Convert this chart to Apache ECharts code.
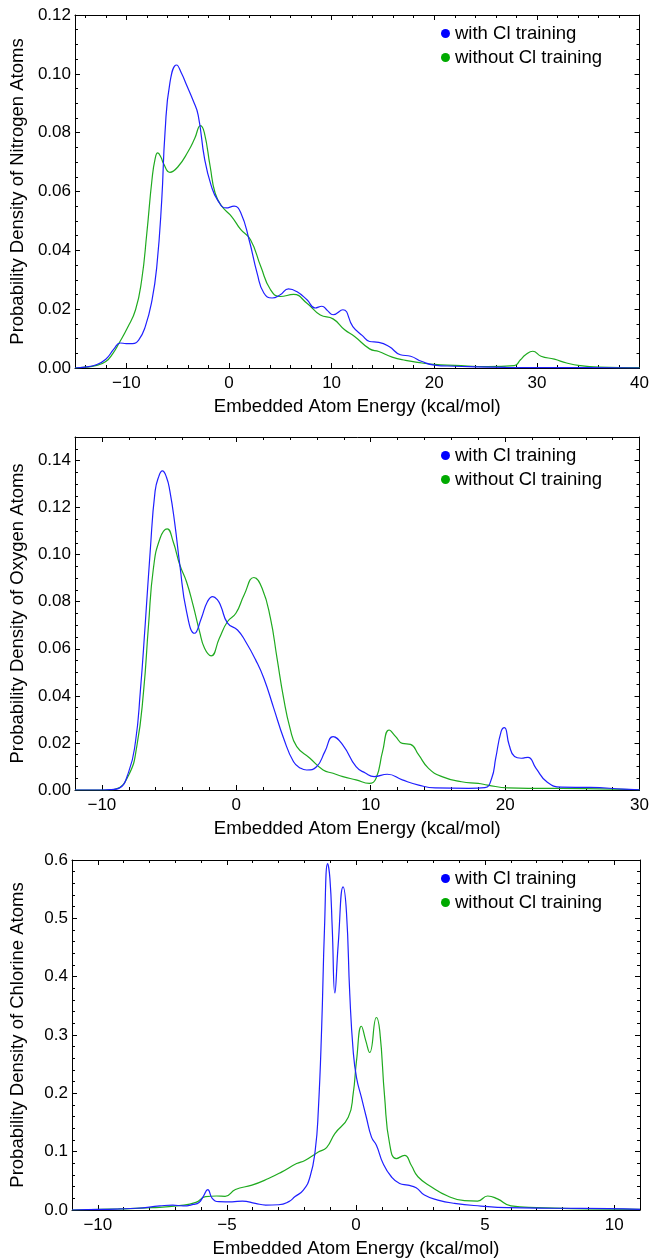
<!DOCTYPE html>
<html>
<head>
<meta charset="utf-8">
<script src="https://cdn.jsdelivr.net/npm/echarts@6/dist/echarts.min.js"></script>
<style>
html,body{margin:0;padding:0;background:#fff;}
#chart{width:652px;height:1259px;}
</style>
</head>
<body>
<div id="chart"></div>
<script>
// ---------- Nitrogen panel ----------
const nWithX = [-15,-14,-13,-12,-11.2,-10.6,-10,-9.4,-8.8,-8.16,-7.5,-7.03,-6.55,-6.23,-5.75,-5.1,-4.6,-4.14,-3.5,-3.0,-2.37,-1.73,-1.09,-0.28,0.5,1.16,1.96,2.76,3.4,4.2,5.0,5.8,6.6,7.6,8.4,9.05,9.6,10.14,11.1,12.07,13.0,13.7,14.6,15.6,16.7,17.7,18.8,20,22,24,27,30,35,40];
const nWithY = [0,0.0003,0.001,0.003,0.0065,0.0085,0.0083,0.0083,0.0095,0.014,0.023,0.0345,0.057,0.080,0.097,0.103,0.100,0.0963,0.091,0.086,0.071,0.062,0.057,0.0544,0.055,0.0527,0.0436,0.032,0.0255,0.0238,0.0249,0.0269,0.026,0.0232,0.0204,0.021,0.0195,0.0181,0.0198,0.0141,0.011,0.009,0.0087,0.0073,0.0045,0.004,0.0022,0.001,0.0006,0.0004,0.0002,0.0001,0.0001,0];
const nWithoutX = [-15,-14,-13,-12,-11.3,-10.7,-9.9,-9.1,-8.5,-8.0,-7.5,-7.2,-6.94,-6.6,-6.4,-5.75,-4.95,-3.98,-3.34,-2.77,-2.4,-1.83,-1.35,-0.7,0.26,1.16,2.1,3.1,4.05,5.0,6.3,7.6,8.9,10.14,11.27,12.24,13.7,14.6,15.9,17.2,18.8,20,22,25.2,27.8,28.4,28.9,29.6,30.4,31.7,32.9,34.2,36,40];
const nWithoutY = [0,0.0003,0.0008,0.0022,0.005,0.0085,0.0136,0.0198,0.030,0.0459,0.064,0.071,0.0731,0.0715,0.0697,0.0665,0.0685,0.0736,0.078,0.0824,0.080,0.0685,0.0595,0.055,0.0515,0.047,0.0436,0.0345,0.0266,0.0243,0.025,0.022,0.018,0.0167,0.013,0.0107,0.0065,0.0056,0.0037,0.0026,0.0017,0.0012,0.0009,0.0005,0.0008,0.0028,0.0045,0.0057,0.004,0.003,0.0017,0.0008,0.0003,0.0001];
const nXTicks = [-10,0,10,20,30,40];
const nYTicks = [0,0.02,0.04,0.06,0.08,0.10,0.12];

// ---------- Oxygen panel ----------
const oWithX = [-12,-10,-9.3,-8.74,-8.0,-7.5,-7.14,-6.78,-6.41,-6.04,-5.75,-5.5,-5.2,-4.94,-4.57,-4.2,-3.7,-3.1,-2.6,-2.15,-1.75,-1.4,-1.14,-0.65,0.09,0.7,1.44,2.05,2.79,3.52,4.26,4.8,5.24,5.97,6.59,7.2,7.93,8.91,9.6,10.26,11.24,12.35,13.57,14.8,17.3,18.5,19.0,19.3,19.7,19.95,20.3,20.7,21.2,21.7,22.3,23.1,24.2,26.3,28.8,30];
const oWithY = [0,0,0.0002,0.0007,0.0078,0.0205,0.0418,0.070,0.101,0.127,0.1335,0.1356,0.133,0.127,0.113,0.0956,0.0758,0.0666,0.073,0.080,0.0822,0.0808,0.078,0.0709,0.068,0.063,0.0553,0.0475,0.0347,0.022,0.012,0.0092,0.0085,0.0099,0.0163,0.0227,0.0191,0.0099,0.0072,0.0057,0.0067,0.0043,0.0021,0.0009,0.0007,0.001,0.005,0.0135,0.0248,0.0265,0.0191,0.0142,0.0135,0.0139,0.0092,0.0035,0.0012,0.0011,0.0004,0.0001];
const oWithoutX = [-12,-10,-9.5,-8.98,-8.0,-7.39,-6.9,-6.53,-6.17,-5.67,-5.14,-4.7,-4.2,-3.71,-3.22,-2.73,-2.36,-1.87,-1.26,-0.65,-0.03,0.58,1.31,1.92,2.54,3.03,3.52,4.0,4.5,5.48,6.46,7.2,7.93,8.91,9.9,10.4,10.88,11.37,11.86,12.35,12.96,13.57,14.3,15.3,16.76,18.0,18.7,20.2,22.4,26.0,30];
const oWithoutY = [0,0,0.0001,0.0004,0.0064,0.019,0.0418,0.070,0.094,0.107,0.111,0.1056,0.0956,0.0886,0.0787,0.0673,0.0602,0.057,0.0645,0.0716,0.0751,0.0829,0.0903,0.0857,0.073,0.056,0.039,0.0262,0.0184,0.0135,0.0085,0.0071,0.0057,0.0043,0.0028,0.005,0.0163,0.0255,0.0227,0.0198,0.0194,0.0149,0.0092,0.0057,0.0035,0.0028,0.0021,0.0009,0.0007,0.0006,0.0001];
const oXTicks = [-10,0,10,20,30];
const oYTicks = [0,0.02,0.04,0.06,0.08,0.10,0.12,0.14];

// ---------- Chlorine panel ----------
const cWithX = [-11,-9.8,-8.5,-7.6,-7.1,-6.7,-6.3,-6.08,-5.92,-5.74,-5.57,-5.31,-4.8,-4.4,-3.9,-3.5,-3.0,-2.6,-2.36,-2.04,-1.78,-1.58,-1.46,-1.33,-1.22,-1.1,-1.01,-0.92,-0.82,-0.69,-0.5,-0.37,-0.24,-0.11,0.02,0.21,0.4,0.6,0.79,1.05,1.37,1.69,2.01,2.33,2.65,3.17,3.81,4.84,5.87,7.7,9.8,11];
const cWithY = [0,0.001,0.003,0.007,0.0085,0.007,0.0095,0.013,0.023,0.035,0.02,0.0143,0.014,0.0153,0.0114,0.0085,0.009,0.0143,0.023,0.034,0.057,0.102,0.17,0.3126,0.483,0.594,0.568,0.483,0.372,0.455,0.554,0.511,0.369,0.273,0.227,0.193,0.159,0.125,0.111,0.0796,0.057,0.0455,0.0426,0.038,0.0256,0.017,0.0114,0.0068,0.004,0.003,0.0025,0.001];
const cWithoutX = [-11,-9.2,-7.9,-6.85,-6.2,-5.83,-5.4,-5.07,-4.67,-4.03,-3.39,-2.87,-2.3,-1.98,-1.46,-1.14,-0.82,-0.3,-0.11,0.02,0.21,0.38,0.53,0.79,0.92,1.11,1.3,1.56,1.88,2.14,2.4,2.91,3.55,4.2,4.71,5.1,5.48,6.0,7.0,8.9,11];
const cWithoutY = [0,0.002,0.004,0.0075,0.013,0.023,0.024,0.0235,0.0352,0.0426,0.054,0.0654,0.0796,0.085,0.0995,0.107,0.131,0.159,0.199,0.256,0.315,0.29,0.27,0.33,0.307,0.193,0.114,0.088,0.0937,0.0767,0.057,0.04,0.024,0.016,0.0153,0.024,0.019,0.007,0.004,0.002,0.001];
const cXTicks = [-10,-5,0,5,10];
const cYTicks = [0,0.1,0.2,0.3,0.4,0.5,0.6];

const seriesNames = ['with Cl training','without Cl training'];
const yTitles = ['Probability Density of Nitrogen Atoms','Probability Density of Oxygen Atoms','Probability Density of Chlorine Atoms'];
const xTitle = 'Embedded Atom Energy (kcal/mol)';

const panels = [
  {top:15, height:353, xMin:-15, xMax:40, xMinorStep:2, yMin:0, yMax:0.12, yMinorStep:0.005, yDec:2, xT:nXTicks, yT:nYTicks,
   a:[nWithX,nWithY], b:[nWithoutX,nWithoutY]},
  {top:437, height:353, xMin:-12, xMax:30, xMinorStep:2, yMin:0, yMax:0.15, yMinorStep:0.005, yDec:2, xT:oXTicks, yT:oYTicks,
   a:[oWithX,oWithY], b:[oWithoutX,oWithoutY]},
  {top:860, height:352, xMin:-11, xMax:11, xMinorStep:1, yMin:0, yMax:0.6, yMinorStep:0.02, yDec:1, xT:cXTicks, yT:cYTicks,
   a:[cWithX,cWithY], b:[cWithoutX,cWithoutY]}
];

function range(a, b, s){ const out=[]; for(let v=a; v<=b+1e-9; v+=s){ out.push(Math.round(v*10000)/10000); } return out; }
function zip(xs, ys){ return xs.map((x,i)=>[x, ys[i]]); }

const FONT = 'Liberation Sans, Arial, Helvetica, sans-serif';
const BLACK = '#000';
const colors = ['#1f1fff','#1faa1f'];

const grid=[], xAxis=[], yAxis=[], series=[], legend=[];
panels.forEach((p, g) => {
  grid.push({left:69, width:571, top:p.top, height:p.height, containLabel:false});
  const xMinor = range(Math.ceil(p.xMin/p.xMinorStep)*p.xMinorStep, p.xMax, p.xMinorStep);
  const yMinor = range(p.yMin, p.yMax, p.yMinorStep);
  const baseX = {gridIndex:g, type:'value', min:p.xMin, max:p.xMax, splitLine:{show:false}};
  const baseY = {gridIndex:g, type:'value', min:p.yMin, max:p.yMax, splitLine:{show:false}};
  const xi = xAxis.length, yi = yAxis.length;
  xAxis.push(Object.assign({}, baseX, {
    position:'bottom',
    axisLine:{show:true, onZero:false, lineStyle:{color:BLACK, width:1}},
    axisTick:{show:true, inside:true, length:5, customValues:p.xT, lineStyle:{color:BLACK}},
    axisLabel:{show:true, customValues:p.xT, margin:7, fontSize:17, color:BLACK, fontFamily:FONT,
      formatter:v => v<0 ? '\u2212'+Math.abs(v) : String(v)},
    name:xTitle, nameLocation:'middle', nameGap:29,
    nameTextStyle:{fontSize:18.5, color:BLACK, fontFamily:FONT}
  }));
  xAxis.push(Object.assign({}, baseX, {position:'bottom', axisLine:{show:false, onZero:false},
    axisTick:{show:true, inside:true, length:3, customValues:xMinor, lineStyle:{color:BLACK}}, axisLabel:{show:false}}));
  xAxis.push(Object.assign({}, baseX, {position:'top', axisLine:{show:true, onZero:false, lineStyle:{color:BLACK, width:1}},
    axisTick:{show:true, inside:true, length:5, customValues:p.xT, lineStyle:{color:BLACK}}, axisLabel:{show:false}}));
  xAxis.push(Object.assign({}, baseX, {position:'top', axisLine:{show:false, onZero:false},
    axisTick:{show:true, inside:true, length:3, customValues:xMinor, lineStyle:{color:BLACK}}, axisLabel:{show:false}}));

  yAxis.push(Object.assign({}, baseY, {
    position:'left',
    axisLine:{show:true, onZero:false, lineStyle:{color:BLACK, width:1}},
    axisTick:{show:true, inside:true, length:5, customValues:p.yT, lineStyle:{color:BLACK}},
    axisLabel:{show:true, customValues:p.yT, margin:4, fontSize:17, color:BLACK, fontFamily:FONT,
      formatter:v => Number(v).toFixed(p.yDec)},
    name:yTitles[g], nameLocation:'middle', nameGap:45,
    nameTextStyle:{fontSize:18.5, color:BLACK, fontFamily:FONT}
  }));
  yAxis.push(Object.assign({}, baseY, {position:'left', axisLine:{show:false, onZero:false},
    axisTick:{show:true, inside:true, length:3, customValues:yMinor, lineStyle:{color:BLACK}}, axisLabel:{show:false}}));
  yAxis.push(Object.assign({}, baseY, {position:'right', axisLine:{show:true, onZero:false, lineStyle:{color:BLACK, width:1}},
    axisTick:{show:true, inside:true, length:5, customValues:p.yT, lineStyle:{color:BLACK}}, axisLabel:{show:false}}));
  yAxis.push(Object.assign({}, baseY, {position:'right', axisLine:{show:false, onZero:false},
    axisTick:{show:true, inside:true, length:3, customValues:yMinor, lineStyle:{color:BLACK}}, axisLabel:{show:false}}));

  const pairs = [p.a, p.b];
  pairs.forEach((pr, k) => {
    series.push({
      type:'line', name:seriesNames[k], xAxisIndex:xi, yAxisIndex:yi,
      data:zip(pr[0], pr[1]), showSymbol:false, smooth:0.5,
      lineStyle:{color:colors[k], width:1.2}, itemStyle:{color:colors[k]},
      animation:false, z: k===0 ? 3 : 2
    });
  });

  legend.push({
    orient:'vertical', left:436, top:p.top+4, itemWidth:9, itemHeight:9, itemGap:5,
    icon:'circle', selectedMode:false,
    data:[{name:seriesNames[0], itemStyle:{color:'#0000ff'}}, {name:seriesNames[1], itemStyle:{color:'#00aa00'}}],
    textStyle:{fontSize:18.5, color:BLACK, fontFamily:FONT, padding:[0,0,0,0]}
  });
});

const chart = echarts.init(document.getElementById('chart'), null, {renderer:'canvas'});
chart.setOption({backgroundColor:'#fff', animation:false, grid, xAxis, yAxis, series, legend});
</script>
</body>
</html>
